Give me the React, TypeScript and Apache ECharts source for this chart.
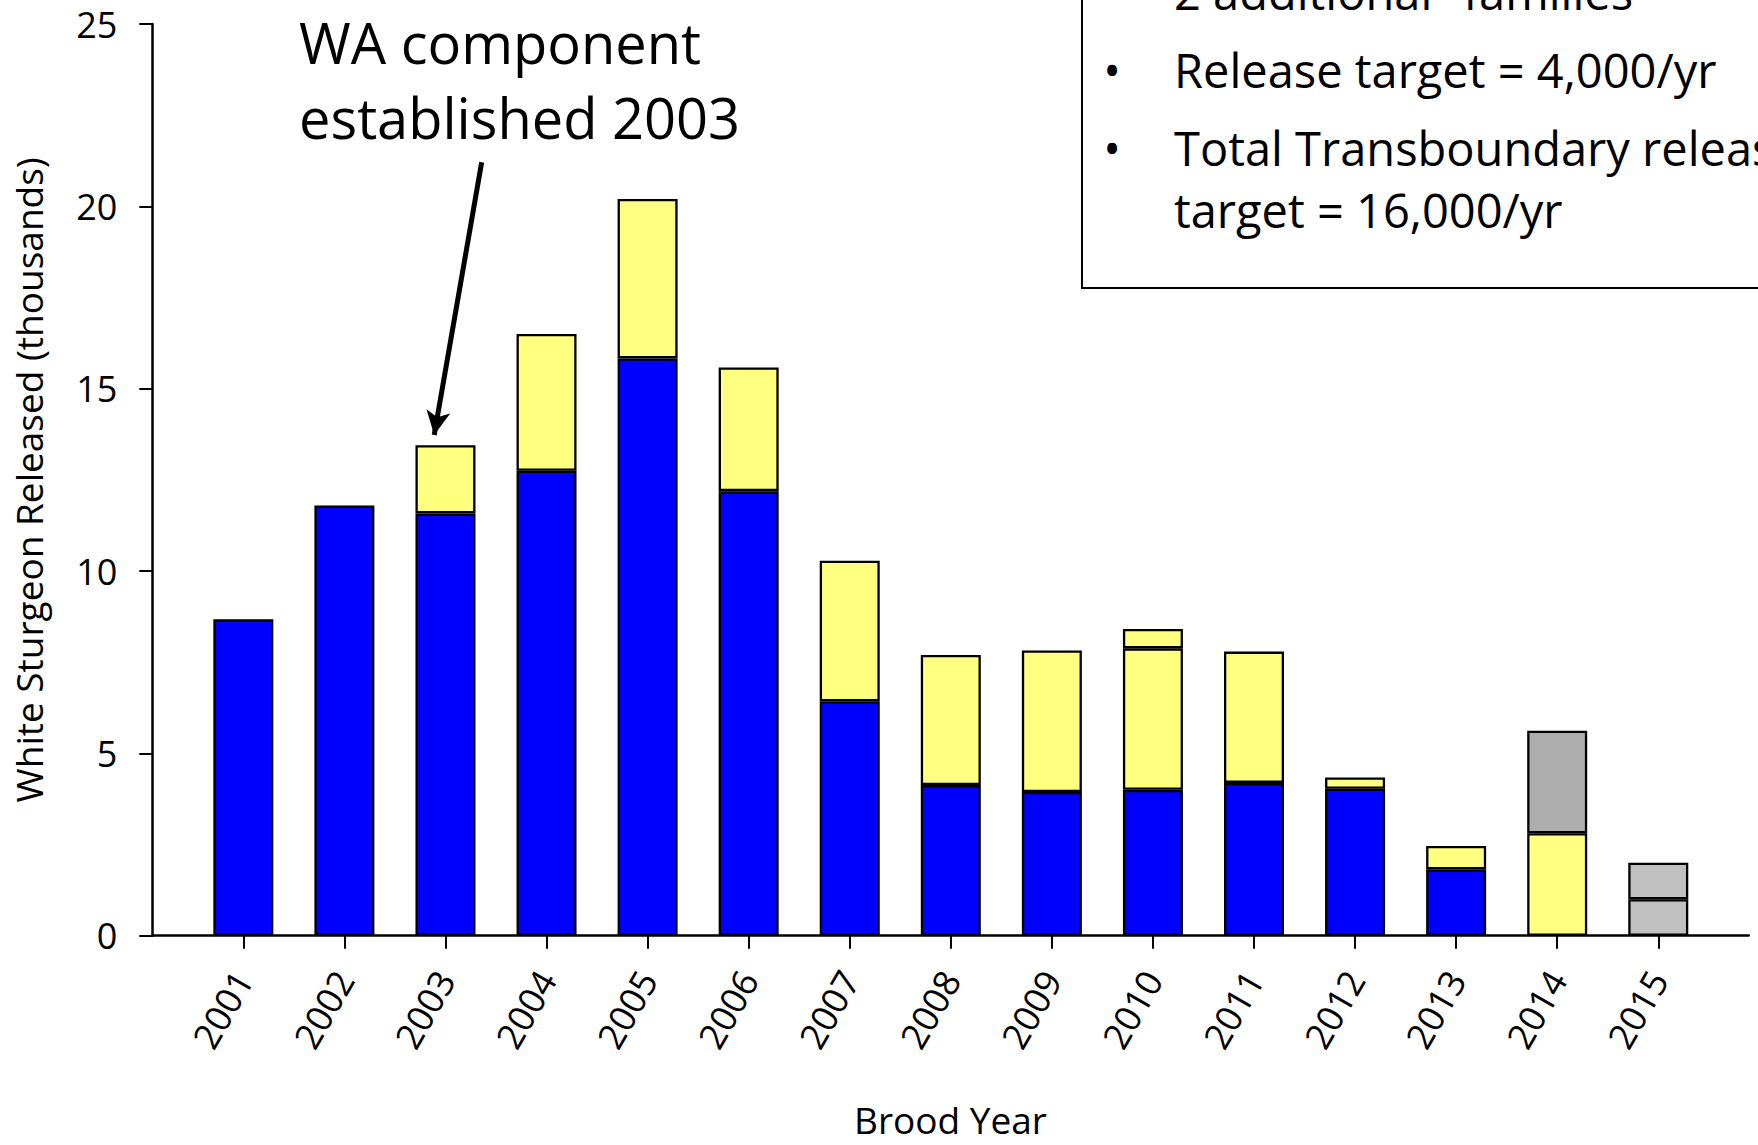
import React, { useEffect, useRef } from "react";
import * as echarts from "echarts";

// ---- data (thousands of white sturgeon released, by brood year) ----
const years = ["2001", "2002", "2003", "2004", "2005", "2006", "2007", "2008", "2009", "2010", "2011", "2012", "2013", "2014", "2015"];
const blueSeg = [8.68, 11.8, 11.58, 12.75, 15.83, 12.19, 6.43, 4.13, 3.94, 4.0, 4.19, 4.03, 1.82, null, null];
const yellowSeg = [null, null, 1.87, 3.75, 4.37, 3.39, 3.85, 3.57, 3.88, 3.88, 3.6, 0.31, 0.64, 2.81, null];
const yellowTopSeg = [null, null, null, null, null, null, null, null, null, 0.53, null, null, null, null, null];
const darkGraySeg = [null, null, null, null, null, null, null, null, null, null, null, null, null, 2.81, null];
const lightGrayLowSeg = [null, null, null, null, null, null, null, null, null, null, null, null, null, null, 1.0];
const lightGrayHighSeg = [null, null, null, null, null, null, null, null, null, null, null, null, null, null, 1.0];
// outer axis frame runs slightly beyond the first/last brood-year bands
const frameXMin = 2000.1;
const frameXMax = 2015.9;
// annotation arrow (data coordinates: [year, thousands])
const arrowFrom = [2003.36, 21.21];
const arrowTo = [2002.89, 13.73];

const FONT = "'Open Sans', 'Noto Sans', sans-serif";

export default function App() {
  const ref = useRef<HTMLDivElement>(null);

  useEffect(() => {
    if (!ref.current) return;
    const chart = echarts.init(ref.current, null, { renderer: "svg" });

    const bar = (name: string, color: string, arr: (number | null)[]) => ({
      name,
      type: "bar",
      stack: "total",
      xAxisIndex: 0,
      yAxisIndex: 0,
      barWidth: 60,
      data: arr.map((v) => (v == null ? "-" : v)),
      itemStyle: { color, borderColor: "#000", borderWidth: 2.3 },
      emphasis: { disabled: true },
    });

    const top = 24;
    const bottom = 209.3;

    chart.setOption({
      animation: false,
      backgroundColor: "#fff",
      textStyle: { fontFamily: FONT },
      grid: [
        { left: 192.8, right: 49.2, top, bottom, outerBoundsMode: "none" },
        { left: 152.3, right: 9.3, top, bottom, outerBoundsMode: "none" },
      ],
      xAxis: [
        {
          type: "category",
          gridIndex: 0,
          data: years,
          boundaryGap: true,
          axisLine: { show: false },
          axisTick: { show: true, alignWithLabel: true, interval: 0, length: 13, lineStyle: { color: "#000", width: 2 } },
          axisLabel: { interval: 0, rotate: 60, margin: 38, fontSize: 36, color: "#000", fontFamily: FONT },
          splitLine: { show: false },
        },
        {
          type: "value",
          gridIndex: 1,
          min: frameXMin,
          max: frameXMax,
          name: "Brood Year",
          nameLocation: "middle",
          nameGap: 165,
          nameTextStyle: { fontSize: 37, color: "#000", fontFamily: FONT },
          axisLine: { show: true, onZero: false, lineStyle: { color: "#000", width: 2.5 } },
          axisTick: { show: false },
          axisLabel: { show: false },
          splitLine: { show: false },
        },
      ],
      yAxis: [
        {
          type: "value",
          gridIndex: 0,
          min: 0,
          max: 25,
          interval: 5,
          show: false,
          splitLine: { show: false },
        },
        {
          type: "value",
          gridIndex: 1,
          min: 0,
          max: 25,
          interval: 5,
          name: "White Sturgeon Released (thousands)",
          nameLocation: "middle",
          nameGap: 105,
          nameTextStyle: { fontSize: 37, color: "#000", fontFamily: FONT },
          axisLine: { show: true, onZero: false, lineStyle: { color: "#000", width: 2.5 } },
          axisTick: { show: true, length: 13, lineStyle: { color: "#000", width: 2 } },
          axisLabel: { fontSize: 36, color: "#000", margin: 35, fontFamily: FONT },
          splitLine: { show: false },
        },
      ],
      series: [
        bar("blue", "#0000FF", blueSeg),
        bar("yellow", "#FFFF80", yellowSeg),
        bar("yellowTop", "#FFFF80", yellowTopSeg),
        bar("darkGray", "#ADADAD", darkGraySeg),
        bar("lightGrayLow", "#C0C0C0", lightGrayLowSeg),
        bar("lightGrayHigh", "#C0C0C0", lightGrayHighSeg),
        {
          name: "arrow",
          type: "line",
          xAxisIndex: 1,
          yAxisIndex: 1,
          data: [],
          silent: true,
          markLine: {
            silent: true,
            symbol: ["none", "arrow"],
            symbolSize: [18, 24],
            label: { show: false },
            lineStyle: { color: "#000", width: 5, type: "solid" },
            emphasis: { disabled: true },
            data: [[{ coord: arrowFrom }, { coord: arrowTo }]],
          },
        },
      ],
      graphic: [
        {
          type: "rect",
          shape: { x: 1082, y: -20, width: 760, height: 308 },
          style: { fill: "#fff", stroke: "#000", lineWidth: 2 },
          z: 10,
        },
        {
          type: "text",
          x: 1174,
          y: -8,
          z: 11,
          style: { text: '2 additional "families"', font: `47px ${FONT}`, fill: "#000", textVerticalAlign: "middle" },
        },
        {
          type: "text",
          x: 1112,
          y: 70,
          z: 11,
          style: { text: "•", font: `47px ${FONT}`, fill: "#000", textAlign: "center", textVerticalAlign: "middle" },
        },
        {
          type: "text",
          x: 1174,
          y: 70,
          z: 11,
          style: { text: "Release target = 4,000/yr", font: `47px ${FONT}`, fill: "#000", textVerticalAlign: "middle" },
        },
        {
          type: "text",
          x: 1112,
          y: 148,
          z: 11,
          style: { text: "•", font: `47px ${FONT}`, fill: "#000", textAlign: "center", textVerticalAlign: "middle" },
        },
        {
          type: "text",
          x: 1174,
          y: 148,
          z: 11,
          style: { text: "Total Transboundary release", font: `47px ${FONT}`, fill: "#000", textVerticalAlign: "middle" },
        },
        {
          type: "text",
          x: 1174,
          y: 210,
          z: 11,
          style: { text: "target = 16,000/yr", font: `47px ${FONT}`, fill: "#000", textVerticalAlign: "middle" },
        },
        {
          type: "text",
          x: 299,
          y: 42,
          z: 11,
          style: { text: "WA component", font: `56px ${FONT}`, fill: "#000", textVerticalAlign: "middle" },
        },
        {
          type: "text",
          x: 299,
          y: 117,
          z: 11,
          style: { text: "established 2003", font: `56px ${FONT}`, fill: "#000", textVerticalAlign: "middle" },
        },
      ],
    });

    return () => chart.dispose();
  }, []);

  return (
    <div
      ref={ref}
      style={{ position: "absolute", left: 0, top: 0, width: 1758, height: 1145, background: "#fff" }}
    />
  );
}
